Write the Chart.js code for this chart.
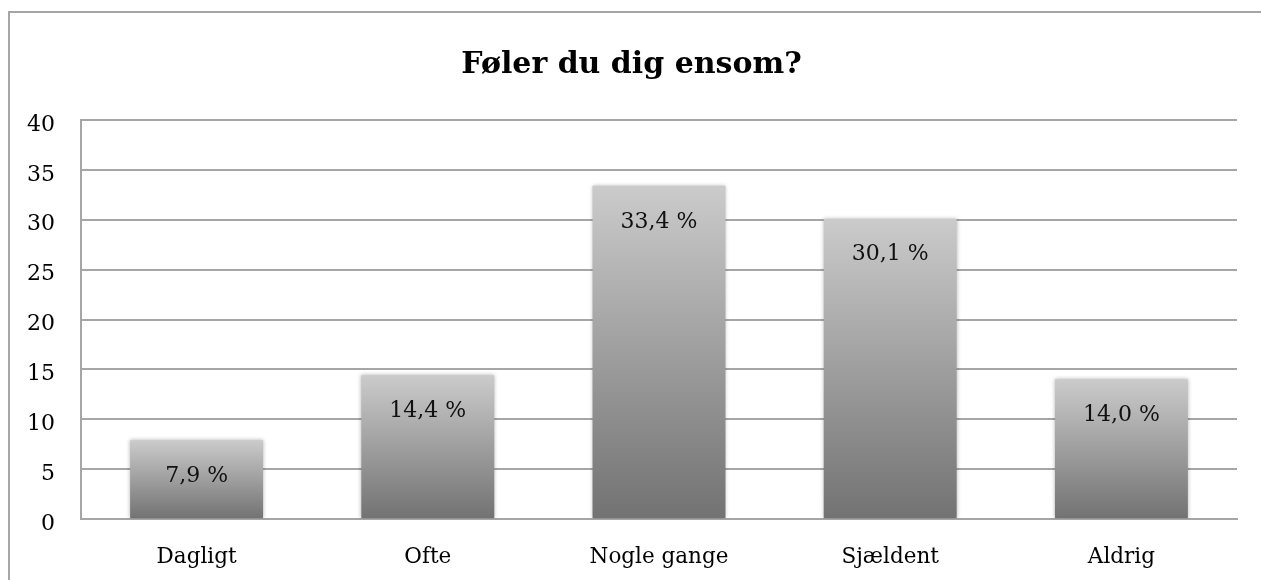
<!DOCTYPE html>
<html>
<head>
<meta charset="utf-8">
<script src="https://cdn.jsdelivr.net/npm/chart.js@4.4.1/dist/chart.umd.min.js"></script>
<style>
  html, body { margin: 0; padding: 0; background: #fff; overflow: hidden; }
  .frame {
    position: absolute; left: 8px; top: 11px; width: 1400px; height: 700px;
    border: 2px solid #a6a6a6; box-sizing: border-box;
  }
  .wrap { position: absolute; left: 0; top: 0; width: 1261px; height: 580px; }
</style>
</head>
<body>
<div class="frame"></div>
<div class="wrap"><canvas id="chart"></canvas></div>
<script>
// ===============================
// DATA
// ===============================
const categories = ["Dagligt", "Ofte", "Nogle gange", "Sjældent", "Aldrig"];
const shares = [7.9, 14.4, 33.4, 30.1, 14.0];
const yTicks = [0, 5, 10, 15, 20, 25, 30, 35, 40];

const FONT = "'DejaVu Serif', 'Liberation Serif', serif";

function fmt(v) {
    return v.toFixed(1).replace(".", ",") + " %";
}

// gradient per bar: light top -> dark bottom
function barGradient(context) {
    const chart = context.chart;
    const y = chart.scales.y;
    if (!y || context.dataIndex === undefined) return "#999";
    const v = context.raw;
    const top = y.getPixelForValue(v);
    const bottom = y.getPixelForValue(0);
    if (!isFinite(top) || !isFinite(bottom) || top === bottom) return "#999";
    const g = chart.ctx.createLinearGradient(0, top, 0, bottom);
    g.addColorStop(0, "#cbcbcb");
    g.addColorStop(1, "#727272");
    return g;
}

// ===============================
// PLUGINS
// ===============================
const barShadow = {
    id: "barShadow",
    beforeDatasetDraw(chart) {
        const ctx = chart.ctx;
        ctx.save();
        ctx.shadowColor = "rgba(0,0,0,0.3)";
        ctx.shadowBlur = 4;
    },
    afterDatasetDraw(chart) {
        chart.ctx.restore();
    }
};

const valueLabels = {
    id: "valueLabels",
    afterDatasetsDraw(chart) {
        const ctx = chart.ctx;
        const meta = chart.getDatasetMeta(0);
        ctx.save();
        ctx.font = "22px " + FONT;
        ctx.fillStyle = "#111";
        ctx.textAlign = "center";
        ctx.textBaseline = "middle";
        meta.data.forEach((bar, i) => {
            ctx.fillText(fmt(shares[i]), bar.x, bar.y + 36);
        });
        ctx.restore();
    }
};

// ===============================
// CHART
// ===============================
new Chart(document.getElementById("chart"), {
    type: "bar",
    data: {
        labels: categories,
        datasets: [{
            data: shares,
            backgroundColor: barGradient,
            borderWidth: 0,
            categoryPercentage: 0.575,
            barPercentage: 1
        }]
    },
    options: {
        responsive: true,
        maintainAspectRatio: false,
        animation: false,
        layout: { padding: { top: 0, left: 26, right: 24, bottom: 0 } },
        plugins: {
            legend: { display: false },
            tooltip: { enabled: false },
            title: {
                display: true,
                text: "Føler du dig ensom?",
                color: "#000",
                font: { family: FONT, size: 30, weight: "bold", lineHeight: 1.2 },
                padding: { top: 47, bottom: 37 }
            }
        },
        scales: {
            x: {
                grid: { display: false, drawTicks: false },
                border: { display: true, color: "#a6a6a6", width: 2 },
                ticks: {
                    color: "#000",
                    font: { family: FONT, size: 21.5 },
                    padding: 26,
                    maxRotation: 0
                },
                afterFit(scale) { scale.height = 61; }
            },
            y: {
                min: 0,
                max: 40,
                afterBuildTicks(scale) {
                    scale.ticks = yTicks.map(v => ({ value: v }));
                },
                grid: { color: "#a6a6a6", lineWidth: 2, drawTicks: false },
                border: { display: true, color: "#a6a6a6", width: 2 },
                ticks: {
                    color: "#000",
                    font: { family: FONT, size: 22 },
                    padding: 26,
                    labelOffset: 5
                },
                afterFit(scale) { scale.width = 55; }
            }
        }
    },
    plugins: [barShadow, valueLabels]
});
</script>
</body>
</html>
